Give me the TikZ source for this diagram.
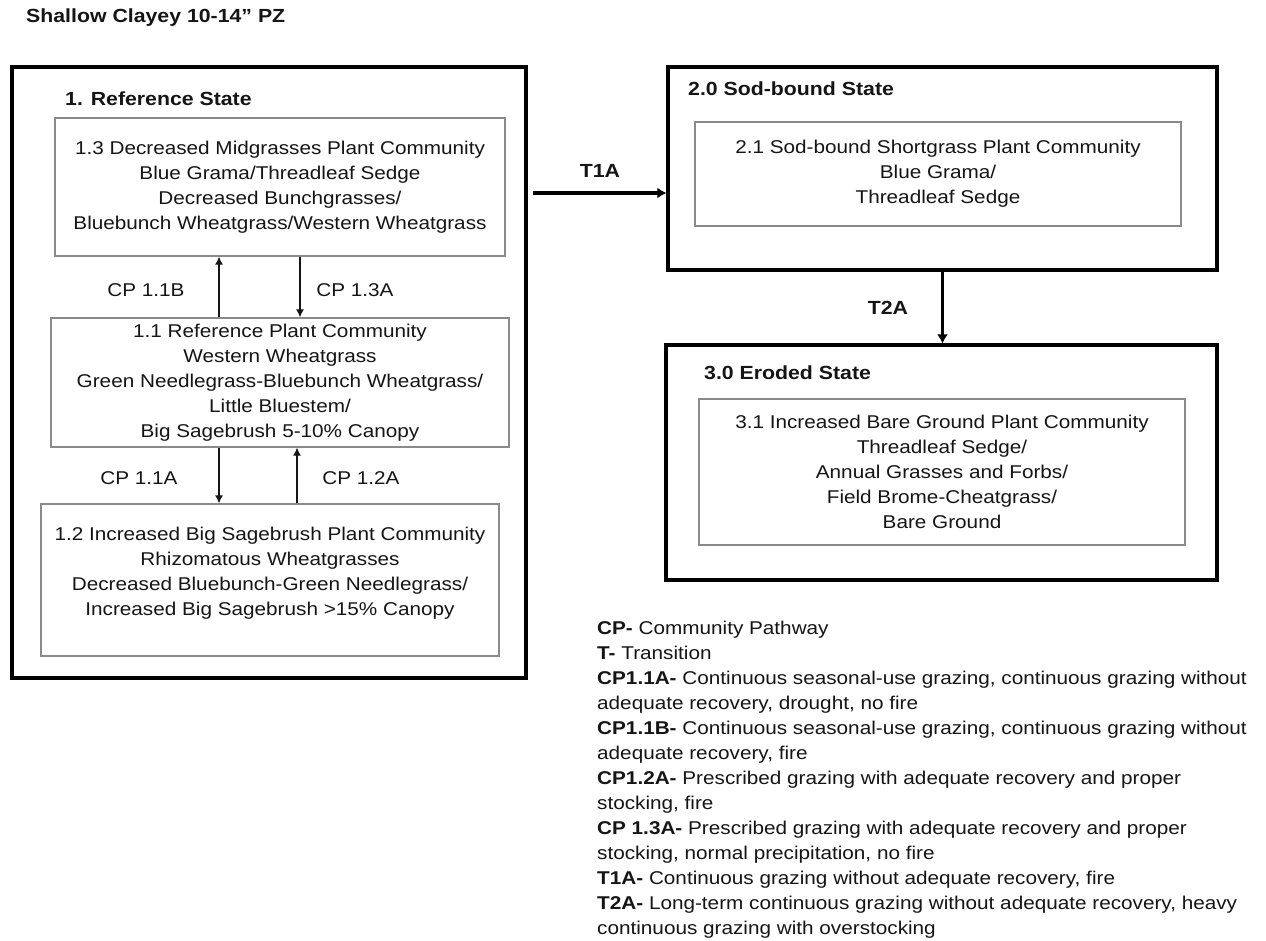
\documentclass[tikz,border=0pt]{standalone}
\usepackage{fontspec}
\setmainfont{Liberation Sans}[FakeStretch=1.12]
\usetikzlibrary{arrows.meta}

\definecolor{boxgray}{HTML}{8A8A8A}
\definecolor{inkgray}{HTML}{151515}

\tikzset{
  state/.style={draw=black, line width=3.2pt, inner sep=0pt},
  community/.style={draw=boxgray, line width=1.3pt, align=center, inner sep=0pt,
    text=inkgray, font=\fontsize{18.5}{25}\selectfont},
  statetitle/.style={anchor=west, inner sep=0pt, text=inkgray,
    font=\bfseries\fontsize{19}{23}\selectfont},
  pathlabel/.style={text=inkgray, font=\fontsize{18.5}{22}\selectfont},
  translabel/.style={text=inkgray, font=\bfseries\fontsize{19}{22}\selectfont},
  pathway/.style={draw=inkgray, line width=1.2pt, -{Latex[length=8pt,width=8pt]}},
  transition/.style={line width=3.8pt, -{Latex[length=9pt,width=11pt]}},
  legendline/.style={anchor=base west, inner sep=0pt, text=inkgray,
    font=\fontsize{18.5}{25}\selectfont}
}

\begin{document}
\begin{tikzpicture}[x=1pt,y=-1pt]
  \useasboundingbox[fill=white] (0,0) rectangle (1266,940);

  % title
  \node[anchor=west, inner sep=0pt, text=inkgray, font=\bfseries\fontsize{19}{23}\selectfont]
       (title) at (26,18) {Shallow Clayey 10-14” PZ};

  % state 1
  \node[state, minimum width=514pt, minimum height=611pt] (s1) at (269,372.5) {};
  \node[statetitle] (s1title) at (65,99) {1. Reference State};
  \node[community, minimum width=450pt, minimum height=138pt] (c13) at (280,187)
       {1.3 Decreased Midgrasses Plant Community\\
        Blue Grama/Threadleaf Sedge\\
        Decreased Bunchgrasses/\\
        Bluebunch Wheatgrass/Western Wheatgrass};
  \node[community, minimum width=458pt, minimum height=129pt] (c11) at (280,382.5)
       {1.1 Reference Plant Community\\
        Western Wheatgrass\\
        Green Needlegrass-Bluebunch Wheatgrass/\\
        Little Bluestem/\\
        Big Sagebrush 5-10\% Canopy};
  \node[community, minimum width=458pt, minimum height=152pt] (c12) at (270,580) {};
  \node[community, draw=none] (c12text) at (270,573.5)
       {1.2 Increased Big Sagebrush Plant Community\\
        Rhizomatous Wheatgrasses\\
        Decreased Bluebunch-Green Needlegrass/\\
        Increased Big Sagebrush >15\% Canopy};

  % community pathways
  \draw[pathway] ([xshift=-61pt]c11.north) -- ([xshift=-61pt]c11.north |- c13.south);
  \draw[pathway] ([xshift=20pt]c13.south) -- ([xshift=20pt]c13.south |- c11.north);
  \draw[pathway] ([xshift=-61pt]c11.south) -- ([xshift=-61pt]c11.south |- c12.north);
  \draw[pathway] ([xshift=27pt]c12.north) -- ([xshift=27pt]c12.north |- c11.south);
  \node[pathlabel] (cp11b) at (146,290) {CP 1.1B};
  \node[pathlabel] (cp13a) at (355,290) {CP 1.3A};
  \node[pathlabel] (cp11a) at (139,478) {CP 1.1A};
  \node[pathlabel] (cp12a) at (361,478) {CP 1.2A};

  % state 2
  \node[state, minimum width=549pt, minimum height=203pt] (s2) at (942.5,168.5) {};
  \node[statetitle] (s2title) at (688,89) {2.0 Sod-bound State};
  \node[community, minimum width=486pt, minimum height=104pt] (c21) at (938,174)
       {2.1 Sod-bound Shortgrass Plant Community\\
        Blue Grama/\\
        Threadleaf Sedge};

  % state 3
  \node[state, minimum width=551pt, minimum height=235pt] (s3) at (941.5,462.5) {};
  \node[statetitle] (s3title) at (704,373) {3.0 Eroded State};
  \node[community, minimum width=486pt, minimum height=146pt] (c31) at (942,472)
       {3.1 Increased Bare Ground Plant Community\\
        Threadleaf Sedge/\\
        Annual Grasses and Forbs/\\
        Field Brome-Cheatgrass/\\
        Bare Ground};

  % transitions
  \coordinate (t1start) at (533,193);
  \draw[transition] (t1start) -- (t1start -| s2.west);
  \node[translabel] (t1a) at (600,171) {T1A};
  \draw[transition] (s2.south) -- (s2.south |- s3.north);
  \node[translabel] (t2a) at (888,308) {T2A};

  % legend
  \foreach \txt [count=\i] in {
      {\textbf{CP-} Community Pathway},
      {\textbf{T-} Transition},
      {\textbf{CP1.1A-} Continuous seasonal-use grazing, continuous grazing without},
      {adequate recovery, drought, no fire},
      {\textbf{CP1.1B-} Continuous seasonal-use grazing, continuous grazing without},
      {adequate recovery, fire},
      {\textbf{CP1.2A-} Prescribed grazing with adequate recovery and proper},
      {stocking, fire},
      {\textbf{CP 1.3A-} Prescribed grazing with adequate recovery and proper},
      {stocking, normal precipitation, no fire},
      {\textbf{T1A-} Continuous grazing without adequate recovery, fire},
      {\textbf{T2A-} Long-term continuous grazing without adequate recovery, heavy},
      {continuous grazing with overstocking}}
    \node[legendline] (lg\i) at (597,609.5+25*\i) {\txt};
\end{tikzpicture}
\end{document}
